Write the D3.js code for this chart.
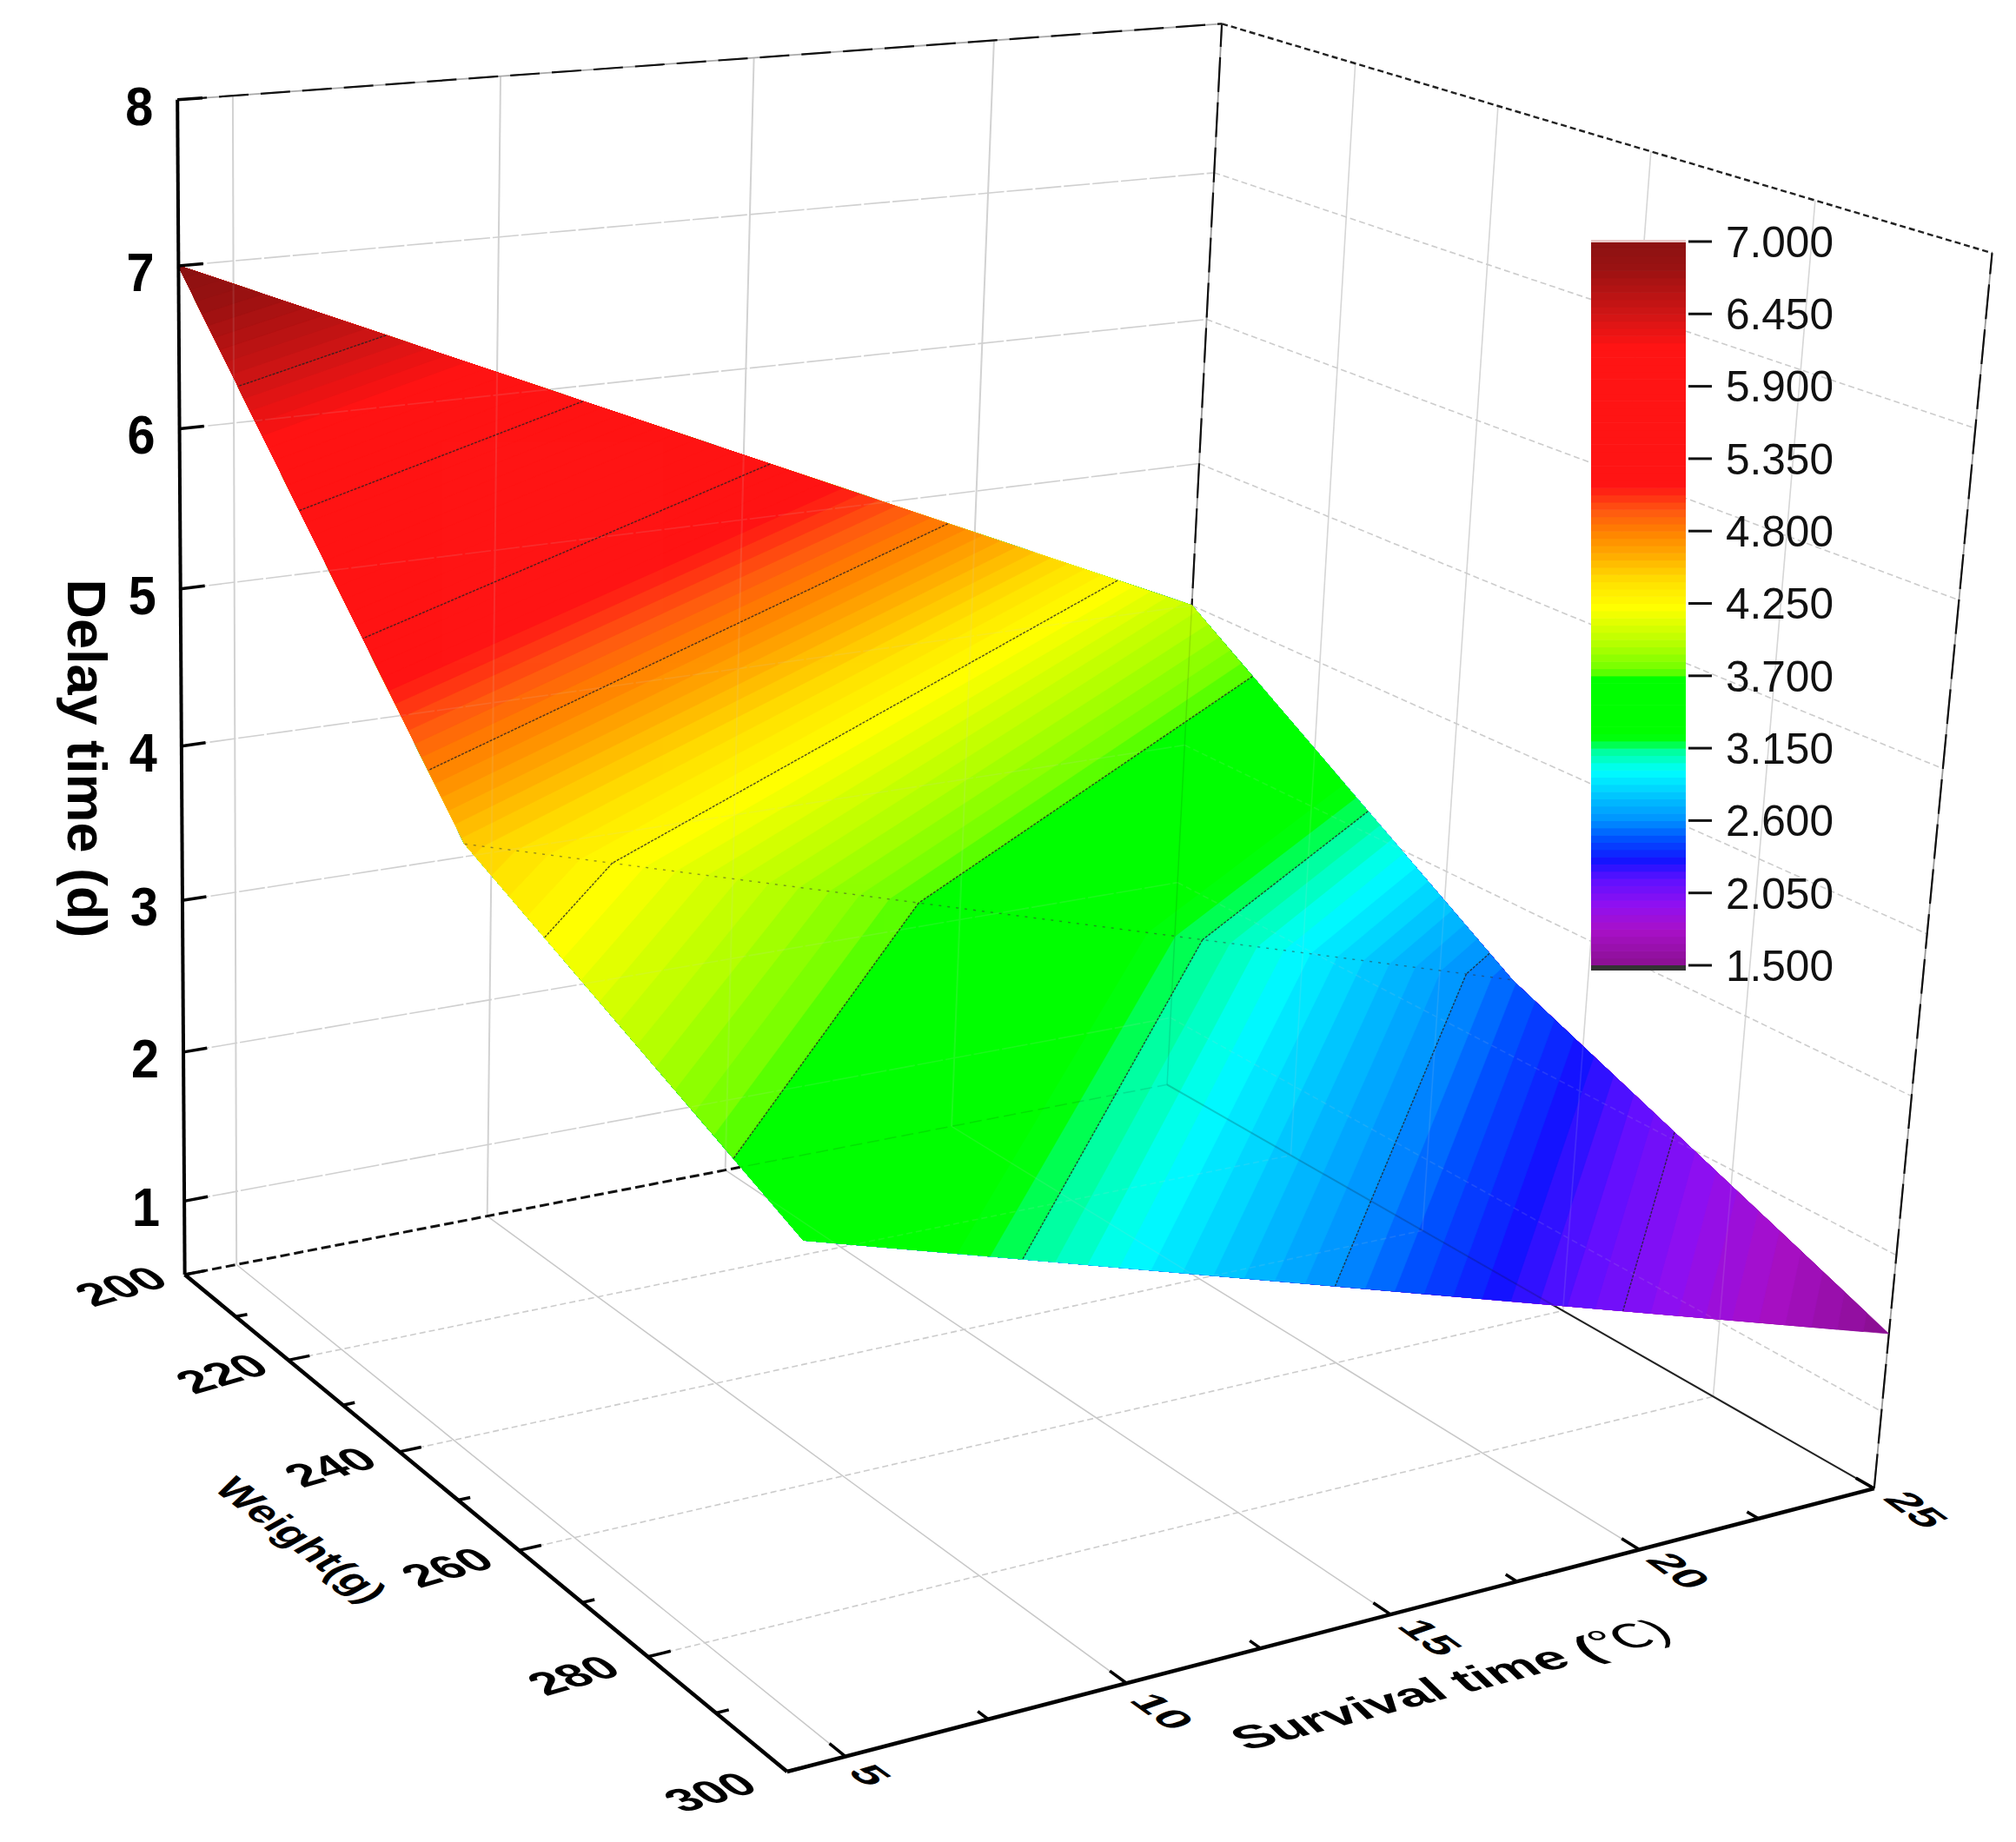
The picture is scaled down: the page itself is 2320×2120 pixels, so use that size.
<!DOCTYPE html>
<html><head><meta charset="utf-8">
<script src="https://cdn.jsdelivr.net/npm/d3@7"></script>
<style>html,body{margin:0;background:#fff}svg{display:block}text{font-family:"Liberation Sans",Arial,sans-serif}</style>
</head><body><svg id="c" width="2320" height="2120"></svg>
<script>
// ---- data ----
const temperatures=[4,25];
const weights=[200,250,300];
const delayAtT4=[7,4.5,3.51];
const delayAtT25=[4,2.5,1.5];
const xTicks=[5,10,15,20,25];
const xMinor=[7.5,12.5,17.5,22.5];
const wTicks=[200,220,240,260,280,300];
const wMinor=[210,230,250,270,290];
const zTicks=[1,2,3,4,5,6,7,8];
const contourLevels=[6.45,5.9,5.35,4.8,4.25,3.7,3.15,2.6,2.05];
const legendTicks=["7.000","6.450","5.900","5.350","4.800","4.250","3.700","3.150","2.600","2.050","1.500"];
const colorZ=[1.5,1.77,1.96,2.15,2.3,2.46,2.6,2.8,2.98,3.15,3.2,3.25,3.68,3.7,3.75,3.93,4.22,4.42,4.6,4.8,4.95,5.1,5.15,6.2,6.45,6.8,7];
const colorV=["#8a1090","#a810c8","#9010f0","#6010ff","#1414ff","#0050ff","#0090ff","#00c8ff","#00ffff","#00ff90","#00ff20","#00ff00","#00ff00","#40ff00","#70ff00","#b0ff00","#ffff00","#ffe000","#ffb000","#ff8000","#ff5a10","#ff2414","#ff1414","#ff1414","#d01515","#9a1212","#8b1212"];
// camera calibration: axis reference positions seen in the picture
const calib=[[4,200,8,203,114],[4,200,.5,210,1468],[4,200,7,205,306],[4,200,6,208,492],[4,200,5,209,675],[4,200,4,210,858],[4,200,3,210,1037],[4,200,1,210,1382],
[4,300,.5,905,2040],[25,300,.5,2157,1713],[25,300,8,2293,290],[25,200,.5,1343,1247],[25,200,8,1407,27],[25,200,7,1399,196],[25,200,6,1388,367],[25,200,5,1381,533],
[5,300,.5,972,2020],[10,300,.5,1295,1937],[15,300,.5,1598,1858],[20,300,.5,1886,1785],
[4,220,.5,333,1566],[4,240,.5,463,1672],[4,260,.5,600,1785],[4,280,.5,747,1907],
[25,220,8,1559,78],[25,240,8,1724,120],[25,260,8,1900,174],[25,280,8,2090,230],
[5,200,8,267,110],[10,200,8,576,87],[15,200,8,866,71],[20,200,8,1142,49]];
const X=d3.scaleLinear().domain([4,25]).range([0,1]),W=d3.scaleLinear().domain([200,300]).range([0,1]),Z=d3.scaleLinear().domain([.5,8]).range([0,1]);
function solveCamera(){
  const N=11,A=d3.range(N).map(()=>new Array(N+1).fill(0));
  const add=(r,b)=>{for(let i=0;i<N;i++){for(let j=0;j<N;j++)A[i][j]+=r[i]*r[j];A[i][N]+=r[i]*b;}};
  calib.forEach(([x,w,z,px,py])=>{const u=X(x),v=W(w),t=Z(z),a=px/1000,b=py/1000;
    add([u,v,t,1,0,0,0,0,-a*u,-a*v,-a*t],a);add([0,0,0,0,u,v,t,1,-b*u,-b*v,-b*t],b);});
  for(let i=0;i<N;i++){let p=i;for(let r=i+1;r<N;r++)if(Math.abs(A[r][i])>Math.abs(A[p][i]))p=r;[A[i],A[p]]=[A[p],A[i]];
    for(let r=0;r<N;r++)if(r!==i){const f=A[r][i]/A[i][i];for(let c=i;c<=N;c++)A[r][c]-=f*A[i][c];}}
  return A.map((r,i)=>r[N]/r[i]);
}
const M=solveCamera();
function P(x,w,z){const u=X(x),v=W(w),t=Z(z),d=M[8]*u+M[9]*v+M[10]*t+1;
  return [1000*(M[0]*u+M[1]*v+M[2]*t+M[3])/d,1000*(M[4]*u+M[5]*v+M[6]*t+M[7])/d];}
const svg=d3.select("#c");
svg.append("rect").attr("width",2320).attr("height",2120).attr("fill","#fff");
const line=d3.line();
const seg=(g,a,b,color,w,dash)=>g.append("path").attr("d",line([P(...a),P(...b)])).attr("fill","none").attr("stroke",color).attr("stroke-width",w).attr("stroke-dasharray",dash||null);
function drawGrid(g){
  xTicks.slice(0,4).forEach(x=>{seg(g,[x,200,.5],[x,200,8],"#d2d2d2",2);seg(g,[x,200,.5],[x,300,.5],"#c8c8c8",1.5);});
  wTicks.slice(1,5).forEach(w=>{seg(g,[25,w,.5],[25,w,8],"#d6d6d6",1.6);seg(g,[4,w,.5],[25,w,.5],"#cccccc",1.6,"7 4");});
  zTicks.slice(0,7).forEach(z=>{seg(g,[4,200,z],[25,200,z],"#d0d0d0",1.6,"30 3");seg(g,[25,200,z],[25,300,z],"#cccccc",1.6,"7 4");});
}
function drawBox(g){
  seg(g,[4,200,.5],[25,200,.5],"#111",3,"11 5");
  seg(g,[25,200,.5],[25,300,.5],"#222",2);
  seg(g,[25,200,.5],[25,200,8],"#999",1.8);seg(g,[25,200,.5],[25,200,8],"#111",2.2,"40 12");
  seg(g,[4,200,8],[25,200,8],"#aaa",1.8);seg(g,[4,200,8],[25,200,8],"#111",2.2,"34 14");
  seg(g,[25,200,8],[25,300,8],"#222",2.4,"7 4");
  seg(g,[25,300,.5],[25,300,8],"#999",1.8);seg(g,[25,300,.5],[25,300,8],"#111",2.2,"40 12");
}
drawGrid(svg.append("g"));
drawBox(svg.append("g"));

// surface: marching over the coarse measured cells, so iso-lines are straight chords
const color=d3.scaleLinear().domain(colorZ).range(colorV).interpolate(d3.interpolateRgb);
const LOW=1.5,STEP=.055,levels=d3.range(100).map(i=>LOW+i*STEP);
const cells=d3.range(weights.length-1).map(i=>[
  [temperatures[0],weights[i],delayAtT4[i]],[temperatures[1],weights[i],delayAtT25[i]],
  [temperatures[1],weights[i+1],delayAtT25[i+1]],[temperatures[0],weights[i+1],delayAtT4[i+1]]]);
const lerp3=(a,b,t)=>{const f=(t-a[2])/(b[2]-a[2]);return [a[0]+(b[0]-a[0])*f,a[1]+(b[1]-a[1])*f,t];};
function clipAbove(poly,t){
  const out=[],cross=[];
  poly.forEach((a,i)=>{const b=poly[(i+1)%poly.length];
    if(a[2]>=t)out.push(a);
    if((a[2]>=t)!==(b[2]>=t)){const c=lerp3(a,b,t);out.push(c);cross.push(c);}
  });
  return {out,cross};
}
const surf=svg.append("g");
levels.forEach((t,i)=>{
  const level=i===0?1.4:t;
  const d=cells.map(c=>{const o=clipAbove(c,level).out;return o.length>2?line(o.map(p=>P(...p)))+"Z":"";}).join("");
  if(d){const col=color(t+STEP/2);surf.append("path").attr("d",d).attr("fill",col).attr("stroke",col).attr("stroke-width",.6);}
});
// lines seen through the slightly transparent surface
const v=(x,i)=>[x,weights[i],x===4?delayAtT4[i]:delayAtT25[i]];
const outline=[v(4,0),v(25,0),v(25,1),v(25,2),v(4,2),v(4,1)].map(p=>P(...p));
svg.append("clipPath").attr("id","sc").append("path").attr("d",line(outline)+"Z");
const thru=svg.append("g").attr("clip-path","url(#sc)").attr("opacity",.13);
drawGrid(thru);
const thru2=svg.append("g").attr("clip-path","url(#sc)");
seg(thru2,[25,200,.5],[25,300,.5],"#111",2).attr("opacity",.2);
seg(thru2,[4,200,.5],[25,200,.5],"#111",1.5,"14 6").attr("opacity",.12);
seg(thru2,[25,200,.5],[25,200,8],"#111",1.5).attr("opacity",.12);
// contour lines on surface
const iso=svg.append("g");
contourLevels.forEach(lv=>{
  const d=cells.map(c=>{const k=clipAbove(c,lv).cross;return k.length===2?line(k.map(p=>P(...p))):"";}).join("");
  iso.append("path").attr("d",d).attr("fill","none").attr("stroke","#222").attr("stroke-width",1.4).attr("stroke-dasharray","3 1.5").attr("opacity",.8);
});
// mesh line at the middle weight
iso.append("path").attr("d",line([P(...v(4,1)),P(...v(25,1))])).attr("fill","none").attr("stroke","#333").attr("stroke-width",1.4).attr("stroke-dasharray","3 7").attr("opacity",.5);

// axes
const ax=svg.append("g");
seg(ax,[4,200,.5],[4,200,8],"#000",4);
seg(ax,[4,200,.5],[4,300,.5],"#000",4.5);
seg(ax,[4,300,.5],[25,300,.5],"#000",4.5);
zTicks.forEach(z=>seg(ax,[4,200,z],[4.45,200,z],"#000",3.5));
wTicks.forEach(w=>seg(ax,[4,w,.5],[4.4,w,.5],"#000",3.5));
wMinor.forEach(w=>seg(ax,[4,w,.5],[4.22,w,.5],"#000",3.5));
xTicks.forEach(x=>seg(ax,[x,300,.5],[x,297.8,.5],"#000",3.5));
xMinor.forEach(x=>seg(ax,[x,300,.5],[x,298.6,.5],"#000",3.5));

function label(s,px,py,xv,yv,fs,weight){
  return svg.append("text").attr("transform",`matrix(${xv[0]},${xv[1]},${yv[0]},${yv[1]},${px},${py})`)
   .attr("text-anchor","middle").attr("dy",".36em").attr("font-size",fs).attr("font-weight",weight||"bold").attr("fill","#000").text(s);
}
zTicks.forEach(z=>{const p=P(4,200,z);label(z,p[0]-44,p[1]+6,[.96,0],[0,1.06],60);});
const WX=[1.04,-.3],WY=[.74,.62];
wTicks.forEach((w,i)=>{const p=P(4,w,.5);label(w,p[0]-(74+i*3),p[1]+(13+i*2),WX,WY,52);});
const XX=[.86,.62],XY=[-.84,.3];
const xdx=[29,42,46,46,49],xdy=[21,32,26,24,24];
xTicks.forEach((x,i)=>{const p=P(x,300,.5);label(x,p[0]+xdx[i],p[1]+xdy[i],XX,XY,52);});
label("Weight(g)",347,1772,[.74,.56],[-.78,.44],52);
const st=label("Survival time (",0,0,[1,0],[0,1],56);
st.attr("transform",`matrix(1.08,-.285,.62,.6,1669,1938)`);
st.append("tspan").attr("font-weight","normal").attr("font-family","'Noto Sans CJK SC'").text("℃");
st.append("tspan").attr("font-weight","normal").text(")");
svg.append("text").attr("transform","translate(101,873) rotate(90)").attr("text-anchor","middle").attr("dy",".36em").attr("font-size",63).attr("font-weight","bold").text("Delay time (d)");

// legend
const LY=d3.scaleLinear().domain([7,1.5]).range([278,1111]);
const leg=svg.append("g");
levels.forEach(l=>leg.append("rect").attr("x",1831).attr("width",109).attr("y",LY(l+STEP)).attr("height",LY(l)-LY(l+STEP)+.6).attr("fill",color(l+STEP/2)));
leg.append("rect").attr("x",1831).attr("width",109).attr("y",276).attr("height",3).attr("fill","#e8c8c8");
leg.append("rect").attr("x",1831).attr("width",109).attr("y",1111).attr("height",6).attr("fill","#333");
legendTicks.forEach(t=>{const y=LY(+t);
  leg.append("line").attr("x1",1943).attr("x2",1970).attr("y1",y).attr("y2",y).attr("stroke","#111").attr("stroke-width",3);
  leg.append("text").attr("x",2110).attr("y",y).attr("dy",".36em").attr("text-anchor","end").attr("font-size",49.6).attr("fill","#111").text(t);
});
</script></body></html>
